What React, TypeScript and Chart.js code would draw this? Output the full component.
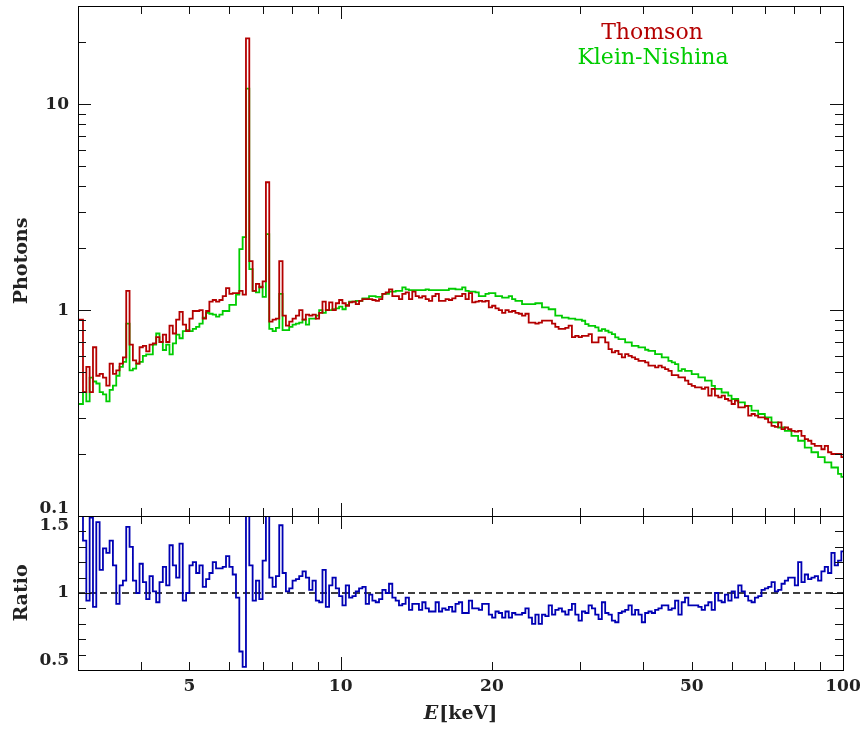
import React, { useEffect, useRef } from 'react';
import { Chart, registerables } from 'chart.js';

Chart.register(...registerables);

// ---- data -------------------------------------------------------------
const E_MIN_KEV = 3;
const E_MAX_KEV = 100;
const BIN_STEPS = 230; // log-uniform bins across the axis range

const THOMSON = [
  0.90, 0.40, 0.53, 0.40, 0.66, 0.48, 0.49, 0.47, 0.43, 0.55,
  0.49, 0.51, 0.55, 0.59, 1.24, 0.68, 0.57, 0.55, 0.66, 0.67,
  0.63, 0.68, 0.69, 0.74, 0.70, 0.76, 0.70, 0.84, 0.77, 0.90,
  0.98, 0.85, 0.79, 0.91, 0.99, 0.99, 1.00, 0.91, 0.99, 1.10,
  1.12, 1.10, 1.12, 1.17, 1.28, 1.20, 1.21, 1.21, 1.24, 1.19,
  20.9, 1.73, 1.24, 1.34, 1.29, 1.38, 4.18, 0.88, 0.90, 0.91,
  1.73, 0.94, 0.84, 0.88, 0.91, 0.94, 1.00, 0.90, 0.95, 0.94,
  0.95, 0.91, 0.97, 1.10, 1.00, 1.09, 1.00, 1.08, 1.12, 1.08,
  1.05, 1.09, 1.10, 1.07, 1.11, 1.13, 1.13, 1.13, 1.12, 1.11,
  1.13, 1.20, 1.22, 1.26, 1.17, 1.17, 1.13, 1.20, 1.22, 1.13,
  1.23, 1.17, 1.15, 1.17, 1.13, 1.11, 1.17, 1.20, 1.11, 1.11,
  1.13, 1.12, 1.14, 1.17, 1.17, 1.20, 1.13, 1.21, 1.09, 1.10,
  1.11, 1.10, 1.11, 1.03, 1.05, 1.02, 1.00, 0.97, 1.00, 0.98,
  0.99, 0.97, 0.96, 0.94, 0.96, 0.87, 0.87, 0.86, 0.87, 0.89,
  0.89, 0.89, 0.86, 0.83, 0.81, 0.81, 0.82, 0.84, 0.74, 0.75,
  0.74,
  0.75, 0.75, 0.765, 0.697, 0.697, 0.737, 0.737, 0.697, 0.647, 0.623,
  0.634, 0.611, 0.589, 0.611, 0.600, 0.589, 0.578, 0.567, 0.567, 0.557,
  0.537, 0.537, 0.527, 0.537, 0.527, 0.517, 0.507, 0.483, 0.483, 0.471,
  0.471, 0.454, 0.437, 0.429, 0.421, 0.421, 0.414, 0.421, 0.384, 0.414,
  0.384, 0.377, 0.384, 0.370, 0.363, 0.350, 0.363, 0.337, 0.337, 0.343,
  0.307, 0.313, 0.307, 0.301, 0.301, 0.296, 0.285, 0.274, 0.271, 0.285,
  0.264, 0.269, 0.264, 0.259, 0.257, 0.259, 0.245, 0.236, 0.232, 0.224,
  0.219, 0.219, 0.211, 0.219, 0.204, 0.200, 0.200, 0.200, 0.193, 0.190,
];

const KLEIN_NISHINA = [
  0.35, 0.40, 0.36, 0.47, 0.45, 0.44, 0.40, 0.39, 0.36, 0.41,
  0.43, 0.48, 0.53, 0.56, 0.86, 0.51, 0.52, 0.55, 0.56, 0.60,
  0.61, 0.61, 0.68, 0.77, 0.70, 0.64, 0.68, 0.61, 0.69, 0.76,
  0.73, 0.79, 0.80, 0.79, 0.81, 0.83, 0.86, 0.92, 0.97, 0.96,
  0.95, 0.93, 0.95, 0.99, 0.99, 1.06, 1.06, 1.19, 1.98, 2.26,
  11.9, 1.58, 1.24, 1.22, 1.30, 1.16, 2.34, 0.81, 0.79, 0.82,
  1.20, 0.80, 0.80, 0.83, 0.85, 0.86, 0.87, 0.90, 0.85, 0.91,
  0.91, 0.94, 1.00, 0.97, 1.00, 1.00, 1.01, 1.02, 1.04, 1.01,
  1.06, 1.10, 1.10, 1.11, 1.11, 1.14, 1.14, 1.17, 1.17, 1.16,
  1.16, 1.20, 1.20, 1.23, 1.23, 1.24, 1.24, 1.29, 1.26, 1.25,
  1.25, 1.25, 1.25, 1.25, 1.26, 1.25, 1.25, 1.25, 1.25, 1.25,
  1.25, 1.27, 1.27, 1.26, 1.26, 1.29, 1.24, 1.23, 1.23, 1.22,
  1.17, 1.17, 1.20, 1.21, 1.21, 1.17, 1.17, 1.15, 1.15, 1.17,
  1.13, 1.11, 1.11, 1.07, 1.07, 1.07, 1.07, 1.08, 1.08, 1.03,
  1.03, 1.01, 1.01, 0.94, 0.94, 0.92, 0.92, 0.91, 0.91, 0.90,
  0.90,
  0.888, 0.855, 0.839, 0.839, 0.824, 0.794, 0.809, 0.794, 0.779, 0.765,
  0.737, 0.723, 0.723, 0.697, 0.697, 0.671, 0.671, 0.659, 0.659, 0.642,
  0.634, 0.634, 0.611, 0.611, 0.589, 0.589, 0.567, 0.557, 0.547, 0.507,
  0.517, 0.507, 0.507, 0.489, 0.489, 0.471, 0.471, 0.454, 0.454, 0.429,
  0.414, 0.414, 0.398, 0.398, 0.384, 0.370, 0.370, 0.356, 0.356, 0.343,
  0.343, 0.325, 0.325, 0.313, 0.313, 0.301, 0.301, 0.285, 0.285, 0.269,
  0.269, 0.259, 0.259, 0.245, 0.245, 0.232, 0.232, 0.215, 0.215, 0.204,
  0.204, 0.193, 0.193, 0.182, 0.182, 0.172, 0.172, 0.160, 0.155, 0.150,
];

const RATIO = [
  1.60, 1.34, 0.95, 1.49, 0.91, 1.46, 1.15, 1.29, 1.26, 1.34,
  1.18, 0.93, 1.05, 1.08, 1.43, 1.30, 1.08, 1.00, 1.19, 1.07,
  0.96, 1.11, 1.01, 0.94, 1.07, 1.17, 1.05, 1.31, 1.18, 1.10,
  1.32, 0.95, 1.00, 1.18, 1.20, 1.13, 1.18, 1.04, 1.09, 1.13,
  1.20, 1.16, 1.16, 1.17, 1.24, 1.17, 1.12, 0.97, 0.62, 0.52,
  1.60, 1.18, 0.95, 1.08, 0.96, 1.21, 1.60, 1.10, 1.04, 1.11,
  1.44, 1.13, 1.01, 1.03, 1.08, 1.09, 1.11, 1.14, 1.10, 1.02,
  1.08, 0.95, 0.94, 1.15, 0.91, 1.05, 1.10, 1.03, 0.98, 0.92,
  1.05, 0.97, 0.98, 1.01, 1.03, 1.04, 0.93, 0.99, 0.95, 0.94,
  0.96, 1.02, 1.00, 1.06, 0.97, 0.95, 0.92, 0.93, 0.97, 0.89,
  0.93, 0.93, 0.89, 0.94, 0.90, 0.88, 0.88, 0.94, 0.88, 0.90,
  0.89, 0.91, 0.88,
  0.93, 0.94, 0.87, 0.87, 0.95, 0.90, 0.90, 0.89, 0.93, 0.93,
  0.86, 0.84, 0.88, 0.87, 0.84, 0.88, 0.84, 0.87, 0.86, 0.86,
  0.87, 0.90, 0.84, 0.80, 0.86, 0.80, 0.86, 0.85, 0.92, 0.86,
  0.89, 0.90, 0.88, 0.86, 0.89, 0.93, 0.86, 0.82, 0.88, 0.87,
  0.92, 0.90, 0.86, 0.83, 0.94, 0.87, 0.86, 0.82, 0.81, 0.87,
  0.88, 0.89, 0.92, 0.86, 0.89, 0.86, 0.81, 0.87, 0.88, 0.87,
  0.89, 0.90, 0.92, 0.92, 0.89, 0.90, 0.95, 0.86, 0.94, 0.97,
  0.92, 0.92, 0.92, 0.91, 0.89, 0.92, 0.94, 0.89, 1.00, 0.95,
  0.94, 0.99, 0.95, 1.01, 0.97, 1.05, 1.01, 0.98, 0.95, 0.94,
  0.97, 0.98, 1.02, 1.03, 1.04, 1.07, 1.01, 1.02, 1.06, 1.08,
  1.10, 1.10, 1.05, 1.20, 1.07, 1.12, 1.09, 1.10, 1.11, 1.08,
  1.14, 1.17, 1.13, 1.26, 1.18, 1.21, 1.27, 1.27,
];

const UNITY = [1, 1];

const X_TICK_LABELS = [5, 10, 20, 50, 100];
const X_MAJOR_TICKS = [10, 100];
const X_MINOR_TICKS = [4, 5, 6, 7, 8, 9, 20, 30, 40, 50, 60, 70, 80, 90];
const Y_TICK_LABELS = [0.1, 1, 10];
const Y_MAJOR_TICKS = [1, 10];
const Y_MINOR_TICKS = [0.2, 0.3, 0.4, 0.5, 0.6, 0.7, 0.8, 0.9, 2, 3, 4, 5, 6, 7, 8, 9, 20];
const R_TICK_LABELS = [0.5, 1, 1.5];
const R_MAJOR_TICKS = [1];
const R_MINOR_TICKS = [0.6, 0.7, 0.8, 0.9, 1.1, 1.2, 1.3, 1.4];

// ---- helpers ----------------------------------------------------------
const DEX = Math.log10(E_MAX_KEV / E_MIN_KEV) / BIN_STEPS;
function binEdge(i: number) {
  return E_MIN_KEV * Math.pow(10, (i - 0.5) * DEX);
}
function histogram(values: number[]) {
  // point i sits on the upper edge of bin i; 'before' stepping draws bin i flat over [edge i, edge i+1]
  const pts = [{ x: binEdge(0), y: values[0] }];
  values.forEach((v, i) => pts.push({ x: binEdge(i + 1), y: v }));
  return pts;
}

const FONT = '"DejaVu Serif", "Liberation Serif", serif';

const decorPlugin = {
  id: 'decor',
  afterDraw(chart: any) {
    const ctx: CanvasRenderingContext2D = chart.ctx;
    const xs = chart.scales.x;
    const ys = chart.scales.y;
    const yr = chart.scales.ratio;
    const L = xs.left;
    const R = xs.right;
    const c = (v: number) => Math.round(v) + 0.5;
    ctx.save();
    ctx.strokeStyle = '#111';
    ctx.lineWidth = 1;
    const vt = (px: number, y: number, len: number) => {
      ctx.beginPath();
      ctx.moveTo(c(px), y);
      ctx.lineTo(c(px), y + len);
      ctx.stroke();
    };
    const ht = (py: number, x: number, len: number) => {
      ctx.beginPath();
      ctx.moveTo(x, c(py));
      ctx.lineTo(x + len, c(py));
      ctx.stroke();
    };
    for (const p of [ys, yr]) {
      for (const v of X_MINOR_TICKS) {
        const px = xs.getPixelForValue(v);
        vt(px, p.top, 8);
        vt(px, p.bottom, -8);
      }
      for (const v of X_MAJOR_TICKS) {
        const px = xs.getPixelForValue(v);
        vt(px, p.top, 13);
        vt(px, p.bottom, -13);
      }
    }
    for (const v of Y_MINOR_TICKS) {
      const py = ys.getPixelForValue(v);
      ht(py, L, 8);
      ht(py, R, -8);
    }
    for (const v of Y_MAJOR_TICKS) {
      const py = ys.getPixelForValue(v);
      ht(py, L, 13);
      ht(py, R, -13);
    }
    for (const v of R_MINOR_TICKS) {
      const py = yr.getPixelForValue(v);
      ht(py, L, 8);
      ht(py, R, -8);
    }
    for (const v of R_MAJOR_TICKS) {
      const py = yr.getPixelForValue(v);
      ht(py, L, 13);
      ht(py, R, -13);
    }
    // frames
    ctx.strokeStyle = '#000';
    ctx.strokeRect(c(L), c(ys.top), Math.round(R - L), Math.round(ys.bottom - ys.top));
    ctx.strokeRect(c(L), c(yr.top), Math.round(R - L), Math.round(yr.bottom - yr.top));

    // tick labels
    ctx.fillStyle = '#222';
    ctx.font = 'bold 17px ' + FONT;
    ctx.textAlign = 'right';
    ctx.textBaseline = 'middle';
    for (const v of Y_TICK_LABELS) {
      let py = ys.getPixelForValue(v);
      py = Math.min(Math.max(py, ys.top + 10), ys.bottom - 7);
      ctx.fillText(String(v), L - 9, py);
    }
    for (const v of R_TICK_LABELS) {
      let py = yr.getPixelForValue(v);
      py = Math.min(Math.max(py, yr.top + 10), yr.bottom - 9);
      ctx.fillText(String(v), L - 9, py);
    }
    ctx.textAlign = 'center';
    for (const v of X_TICK_LABELS) {
      ctx.fillText(String(v), xs.getPixelForValue(v), yr.bottom + 17);
    }

    // axis titles
    ctx.font = 'bold 19px ' + FONT;
    const vTitle = (text: string, cy: number) => {
      ctx.save();
      ctx.translate(22, cy);
      ctx.rotate(-Math.PI / 2);
      ctx.textAlign = 'center';
      ctx.textBaseline = 'middle';
      ctx.fillText(text, 0, 0);
      ctx.restore();
    };
    vTitle('Photons', (ys.top + ys.bottom) / 2);
    vTitle('Ratio', (yr.top + yr.bottom) / 2);

    const cx = (L + R) / 2;
    const ty = yr.bottom + 44;
    ctx.textAlign = 'left';
    ctx.font = 'italic bold 19px ' + FONT;
    const wE = ctx.measureText('E').width;
    ctx.font = 'bold 19px ' + FONT;
    const wU = ctx.measureText('[keV]').width;
    const x0 = cx - (wE + wU + 1) / 2;
    ctx.font = 'italic bold 19px ' + FONT;
    ctx.fillText('E', x0, ty);
    ctx.font = 'bold 19px ' + FONT;
    ctx.fillText('[keV]', x0 + wE + 1, ty);

    // legend text
    ctx.textAlign = 'center';
    ctx.font = '22px ' + FONT;
    ctx.fillStyle = '#b40000';
    ctx.fillText('Thomson', 652, 33);
    ctx.fillStyle = '#00cc00';
    ctx.fillText('Klein-Nishina', 653, 58);
    ctx.restore();
  },
};

export default function App() {
  const ref = useRef<HTMLCanvasElement | null>(null);
  useEffect(() => {
    if (!ref.current) return;
    const hidden = {
      ticks: { display: false },
      grid: { display: false, drawTicks: false },
      border: { display: false },
      title: { display: false },
    };
    const line = (color: string) => ({
      borderColor: color,
      borderWidth: 1.8,
      stepped: 'before',
      pointRadius: 0,
      fill: false,
    });
    const chart = new Chart(ref.current, {
      type: 'line',
      data: {
        datasets: [
          { label: 'Thomson', data: histogram(THOMSON), xAxisID: 'x', yAxisID: 'y', ...line('#b40000') },
          { label: 'Klein-Nishina', data: histogram(KLEIN_NISHINA), xAxisID: 'x', yAxisID: 'y', ...line('#00cc00') },
          { label: 'Ratio', data: histogram(RATIO), xAxisID: 'x', yAxisID: 'ratio', ...line('#0000b4') },
          {
            label: 'Unity',
            data: [
              { x: E_MIN_KEV, y: UNITY[0] },
              { x: E_MAX_KEV, y: UNITY[1] },
            ],
            xAxisID: 'x',
            yAxisID: 'ratio',
            borderColor: '#000',
            borderWidth: 1.6,
            borderDash: [7, 4],
            pointRadius: 0,
            fill: false,
          },
        ],
      } as any,
      options: {
        responsive: false,
        maintainAspectRatio: false,
        animation: false,
        devicePixelRatio: 1,
        events: [],
        layout: { padding: { left: 78, right: 21, top: 6, bottom: 59 } },
        plugins: { legend: { display: false }, tooltip: { enabled: false } },
        scales: {
          x: { type: 'logarithmic', min: E_MIN_KEV, max: E_MAX_KEV, position: 'bottom', ...hidden },
          y: {
            type: 'logarithmic',
            min: 0.1,
            max: 30,
            position: 'left',
            stack: 'panels',
            stackWeight: 510,
            weight: 1,
            ...hidden,
          },
          ratio: {
            type: 'linear',
            min: 0.5,
            max: 1.5,
            position: 'left',
            stack: 'panels',
            stackWeight: 154,
            weight: 0,
            ...hidden,
          },
        } as any,
      },
      plugins: [decorPlugin],
    });
    return () => chart.destroy();
  }, []);
  return (
    <div style={{ position: 'absolute', left: 0, top: 0, width: 864, height: 729, background: '#fff' }}>
      <canvas ref={ref} width={864} height={729} style={{ display: 'block' }} />
    </div>
  );
}
